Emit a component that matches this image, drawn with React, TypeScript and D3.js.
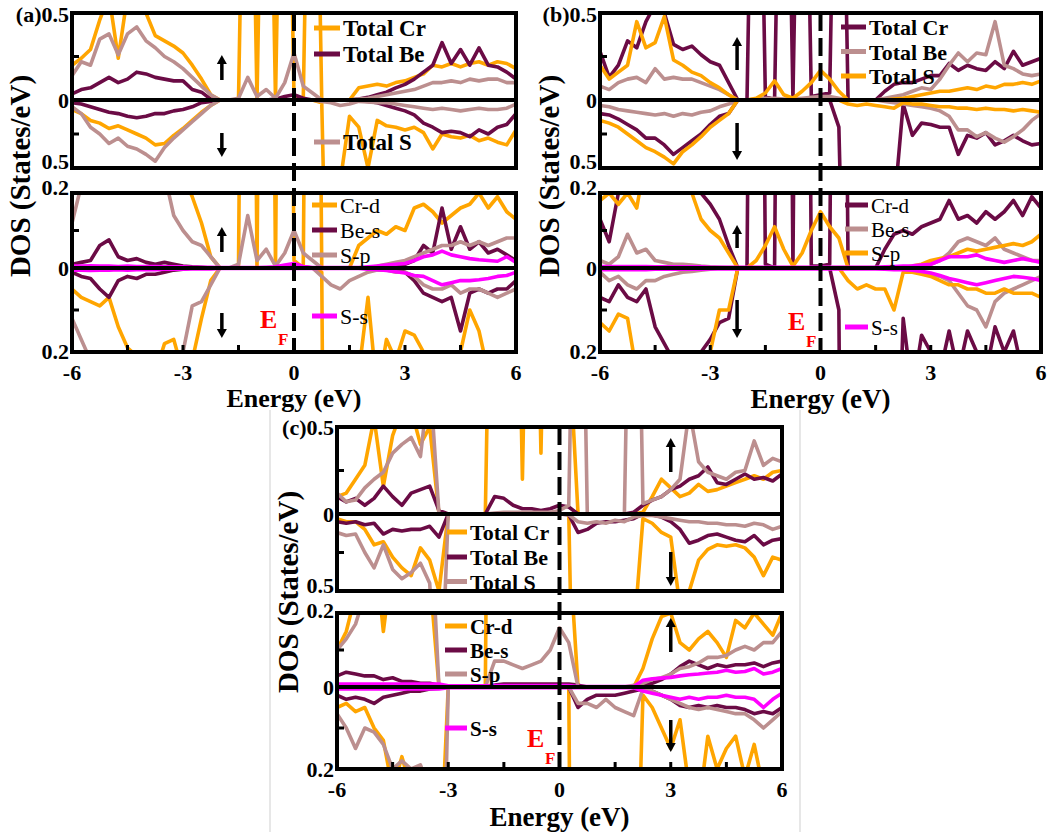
import React from "react";
import * as d3 from "d3";

const ORANGE = "#FFA500";
const PURPLE = "#6B0B45";
const ROSY = "#BC8F8F";
const MAGENTA = "#FF00FF";
const FONT = "'Liberation Serif', 'Times New Roman', serif";

// energy grid: -6 .. 6 eV, 0.25 eV step (49 points)
const energy = d3.range(49).map((i) => -6 + i * 0.25);
const xTickLabels = [-6, -3, 0, 3, 6];
const xTickMarks = [-4.5, -3, -1.5, 0, 1.5, 3, 4.5];

// ---------- panel (a) total DOS ----------
const aTopCrUp = [
  0.2, 0.24, 0.29, 0.46, 0.6, 0.24, 0.6, 0.56,
  0.5, 0.37, 0.34, 0.31, 0.27, 0.2, 0.12, 0.03,
  0, 0, 0, 3, 0, 3, 0, 3,
  0.02, 0, 3, 0, 0, 0, 0, 0.07,
  0.08, 0.09, 0.08, 0.1, 0.11, 0.13, 0.15, 0.2,
  0.19, 0.21, 0.19, 0.21, 0.22, 0.2, 0.22, 0.21,
  0.18];
const aTopCrDn = [
  -0.07, -0.1, -0.15, -0.17, -0.21, -0.19, -0.22, -0.25,
  -0.28, -0.33, -0.32, -0.26, -0.21, -0.15, -0.09, -0.04,
  0, 0, 0, 0, 0, 0, 0, 0,
  0, 0, 0, -0.02, -3, -0.6, -0.12, -0.2,
  -0.5, -0.15, -0.19, -0.2, -0.22, -0.2, -0.24, -0.36,
  -0.25, -0.27, -0.28, -0.26, -0.3, -0.28, -0.31, -0.33,
  -0.22];
const aTopBeUp = [
  0.035, 0.06, 0.07, 0.1, 0.13, 0.1, 0.12, 0.16,
  0.15, 0.13, 0.12, 0.11, 0.11, 0.06, 0.045, 0.005,
  0, 0, 0, 0, 0, 0, 0.005, 0.02,
  0.03, 0.01, 0, 0, 0, 0, 0, 0.005,
  0.015, 0.03, 0.045, 0.07, 0.09, 0.12, 0.16, 0.2,
  0.33, 0.21, 0.29, 0.2, 0.3, 0.2, 0.19, 0.16,
  0.12];
const aTopBeDn = [
  -0.02, -0.03, -0.05, -0.07, -0.09, -0.1, -0.12, -0.13,
  -0.12, -0.1, -0.1, -0.08, -0.07, -0.05, -0.02, -0.01,
  0, 0, 0, 0, 0, 0, 0, 0,
  0, 0, 0, 0, 0, 0, 0, -0.005,
  -0.01, -0.02, -0.04, -0.06, -0.08, -0.11, -0.17, -0.2,
  -0.24, -0.23, -0.24, -0.27, -0.22, -0.25, -0.2, -0.18,
  -0.1];
const aTopSUp = [
  0.14, 0.22, 0.2, 0.35, 0.38, 0.26, 0.38, 0.42,
  0.34, 0.3, 0.25, 0.22, 0.18, 0.13, 0.08, 0.03,
  0, 0, 0.01, 0.13, 0.02, 0.06, 0.01, 0.1,
  0.27, 0.08, 0.04, 0, 0, 0, 0, 0.005,
  0.01, 0.02, 0.03, 0.04, 0.05, 0.06, 0.08, 0.1,
  0.1, 0.11, 0.1, 0.12, 0.11, 0.12, 0.12, 0.1,
  0.1];
const aTopSDn = [
  -0.05, -0.1, -0.2, -0.25, -0.32, -0.28, -0.34, -0.36,
  -0.4, -0.45, -0.35, -0.28, -0.22, -0.16, -0.1, -0.04,
  0, 0, 0, 0, 0, 0, 0, 0,
  0, 0, 0, -0.01, -0.02, -0.04, -0.03, -0.01,
  -0.015, -0.02, -0.02, -0.03, -0.04, -0.05, -0.06, -0.07,
  -0.06, -0.07, -0.08, -0.07, -0.06, -0.07, -0.07, -0.06,
  -0.03];

// ---------- panel (a) partial DOS ----------
const aBotCrUp = [
  0.3, 0.35, 0.3, 0.4, 0.5, 0.3, 0.5, 0.5,
  0.45, 0.35, 0.3, 0.3, 0.25, 0.19, 0.12, 0.03,
  0, 0, 0, 3, 0, 3, 0, 3,
  0.02, 0, 3, 0, 0, 0, 0, 0.06,
  0.08, 0.1, 0.09, 0.11, 0.1, 0.16, 0.17, 0.15,
  0.12, 0.14, 0.16, 0.17, 0.2, 0.16, 0.19, 0.15,
  0.13];
const aBotCrDn = [
  -0.05, -0.07, -0.08, -0.09, -0.07, -0.14, -0.19, -0.21,
  -0.22, -0.25, -0.18, -0.17, -0.25, -0.22, -0.12, -0.03,
  0, 0, 0, 0, 0, 0, 0, 0,
  0, 0, 0, -0.01, -3, -0.5, -0.4, -0.25,
  -0.07, -0.3, -0.17, -0.22, -0.15, -0.16, -0.2, -0.25,
  -0.22, -0.25, -0.2, -0.1, -0.15, -0.25, -0.22, -0.25,
  -0.25];
const aBotBeUp = [
  0.01, 0.015, 0.02, 0.06, 0.075, 0.03, 0.02, 0.025,
  0.015, 0.01, 0.015, 0.01, 0.005, 0.003, 0.002, 0,
  0, 0, 0, 0, 0, 0, 0, 0.003,
  0.008, 0.003, 0, 0, 0, 0, 0, 0,
  0, 0, 0.003, 0.006, 0.01, 0.02, 0.06, 0.04,
  0.16, 0.05, 0.11, 0.05, 0.07, 0.04, 0.05, 0.035,
  0.02];
const aBotBeDn = [
  -0.01, -0.02, -0.025, -0.05, -0.07, -0.03, -0.02, -0.025,
  -0.015, -0.015, -0.01, -0.005, -0.003, 0, 0, 0,
  0, 0, 0, 0, 0, 0, 0, 0,
  0, 0, 0, 0, 0, 0, 0, 0,
  0, 0, 0, -0.003, -0.01, -0.03, -0.06, -0.07,
  -0.08, -0.07, -0.15, -0.06, -0.05, -0.06, -0.05, -0.05,
  -0.03];
const aBotSpUp = [
  0.12, 0.22, 0.3, 0.3, 0.3, 0.3, 0.3, 0.3,
  0.3, 0.3, 0.25, 0.14, 0.1, 0.07, 0.06, 0.03,
  0, 0, 0.01, 0.14, 0.02, 0.05, 0.005, 0.04,
  0.1, 0.04, 0.02, 0, 0, 0, 0, 0,
  0, 0.005, 0.01, 0.015, 0.02, 0.03, 0.04, 0.05,
  0.06, 0.06, 0.07, 0.06, 0.07, 0.06, 0.07, 0.08,
  0.08];
const aBotSpDn = [
  -0.12, -0.17, -0.22, -0.3, -0.3, -0.3, -0.3, -0.3,
  -0.3, -0.3, -0.3, -0.25, -0.2, -0.09, -0.08, -0.04,
  0, 0, 0, 0, 0, 0, 0, 0,
  0, 0, 0, -0.02, -0.04, -0.05, -0.03, -0.02,
  -0.01, -0.005, -0.005, -0.01, -0.01, -0.02, -0.04, -0.05,
  -0.05, -0.04, -0.06, -0.05, -0.05, -0.06, -0.07, -0.06,
  -0.05];
const aBotSsUp = [
  0.005, 0.005, 0.006, 0.005, 0.005, 0.004, 0.005, 0.004,
  0.004, 0.004, 0.003, 0.003, 0.003, 0.002, 0.002, 0.002,
  0.001, 0.001, 0.001, 0.001, 0.001, 0.002, 0.003, 0.008,
  0.012, 0.004, 0.001, 0.001, 0.001, 0.001, 0.001, 0.001,
  0.003, 0.005, 0.008, 0.01, 0.012, 0.02, 0.03, 0.035,
  0.045, 0.035, 0.03, 0.025, 0.022, 0.02, 0.018, 0.03,
  0.015];
const aBotSsDn = [
  -0.005, -0.005, -0.006, -0.005, -0.005, -0.004, -0.005, -0.004,
  -0.004, -0.004, -0.003, -0.003, -0.003, -0.002, -0.002, -0.002,
  -0.001, -0.001, -0.001, -0.001, -0.001, -0.001, -0.001, -0.001,
  -0.001, -0.001, -0.001, -0.001, -0.001, -0.001, -0.001, -0.001,
  -0.003, -0.004, -0.006, -0.009, -0.012, -0.018, -0.02, -0.03,
  -0.04, -0.035, -0.03, -0.03, -0.028, -0.025, -0.02, -0.018,
  -0.01];

// ---------- panel (b) total DOS ----------
const bTopCrUp = [
  0.28, 0.13, 0.2, 0.34, 0.3, 0.45, 0.55, 0.5,
  0.32, 0.29, 0.31, 0.26, 0.22, 0.2, 0.1, 0,
  0, 3, 0.02, 0, 3, 0.01, 3, 0.02,
  0.03, 0.04, 3, 0, 0, 0, 0, 0.05,
  0.09, 0.1, 0.1, 0.12, 0.14, 0.14, 0.21, 0.17,
  0.2, 0.18, 0.17, 0.22, 0.18, 0.28, 0.2, 0.22,
  0.24];
const bTopCrDn = [
  -0.1, -0.11, -0.14, -0.18, -0.22, -0.28, -0.28, -0.33,
  -0.4, -0.35, -0.3, -0.25, -0.18, -0.12, -0.1, 0,
  0, 0, 0, 0, 0, 0, 0, 0,
  0, 0, -0.2, -3, -3, -3, -3, -3,
  -0.8, -0.03, -0.26, -0.17, -0.18, -0.2, -0.2, -0.4,
  -0.26, -0.28, -0.24, -0.33, -0.3, -0.26, -0.3, -0.33,
  -0.32];
const bTopBeUp = [
  0.08, 0.06, 0.1, 0.12, 0.13, 0.1, 0.18, 0.12,
  0.13, 0.12, 0.12, 0.1, 0.08, 0.06, 0.03, 0,
  0, 0.005, 0.01, 0.01, 0.005, 0.005, 0.01, 0.015,
  0.02, 0.02, 0.01, 0, 0, 0, 0, 0.01,
  0.02, 0.03, 0.05, 0.07, 0.06, 0.12, 0.2, 0.27,
  0.22, 0.27, 0.26, 0.45, 0.2, 0.18, 0.15, 0.14,
  0.15];
const bTopBeDn = [
  -0.04, -0.05, -0.07, -0.08, -0.09, -0.1, -0.11, -0.1,
  -0.12, -0.1, -0.11, -0.09, -0.08, -0.05, -0.03, 0,
  0, 0, 0, 0, 0, 0, 0, 0,
  0, 0, 0, 0, 0, 0, 0, -0.01,
  -0.02, -0.03, -0.04, -0.05, -0.06, -0.08, -0.12, -0.22,
  -0.22, -0.27, -0.24, -0.28, -0.31, -0.27, -0.22, -0.15,
  -0.1];
const bTopSUp = [
  0.2, 0.12, 0.16, 0.2, 0.45, 0.3, 0.33, 0.48,
  0.23, 0.2, 0.16, 0.14, 0.1, 0.07, 0.03, 0,
  0, 0.01, 0.04, 0.11, 0.03, 0.01, 0.05, 0.1,
  0.17, 0.12, 0.05, 0, 0, 0, 0, 0,
  0.005, 0.01, 0.02, 0.03, 0.04, 0.05, 0.05, 0.06,
  0.07, 0.06, 0.08, 0.07, 0.09, 0.09, 0.1, 0.09,
  0.11];
const bTopSDn = [
  -0.15, -0.17, -0.2, -0.25, -0.3, -0.35, -0.38, -0.42,
  -0.47, -0.38, -0.33, -0.27, -0.2, -0.15, -0.1, 0,
  0, 0, 0, 0, 0, 0, 0, 0,
  0, 0, 0, -0.03, -0.04, -0.03, -0.04, -0.05,
  -0.06, -0.02, -0.03, -0.03, -0.04, -0.05, -0.05, -0.06,
  -0.06, -0.07, -0.06, -0.07, -0.07, -0.08, -0.07, -0.08,
  -0.09];

// ---------- panel (b) partial DOS ----------
const bBotCrUp = [
  0.13, 0.07, 0.2, 0.3, 0.3, 0.3, 0.3, 0.3,
  0.3, 0.3, 0.3, 0.2, 0.17, 0.13, 0.06, 0,
  0, 3, 0.01, 0, 3, 0.005, 3, 0.005,
  0.005, 0.01, 3, 0, 0, 0, 0, 0.05,
  0.09, 0.1, 0.09, 0.11, 0.12, 0.13, 0.18, 0.13,
  0.14, 0.12, 0.15, 0.13, 0.15, 0.18, 0.14, 0.19,
  0.16];
const bBotCrDn = [
  -0.07, -0.08, -0.04, -0.07, -0.08, -0.05, -0.14, -0.18,
  -0.22, -0.25, -0.25, -0.2, -0.17, -0.13, -0.12, 0,
  0, 0, 0, 0, 0, 0, 0, 0,
  0, 0, -0.1, -3, -3, -3, -3, -3,
  -0.8, -0.12, -0.3, -0.16, -0.2, -0.25, -0.15, -0.25,
  -0.15, -0.2, -0.25, -0.14, -0.2, -0.15, -0.25, -0.2,
  -0.25];
const bBotBeUp = [
  0.02, 0.01, 0.03, 0.09, 0.04, 0.05, 0.02, 0.015,
  0.01, 0.01, 0.008, 0.005, 0.003, 0.002, 0.001, 0.001,
  0.001, 0.001, 0.001, 0.001, 0.001, 0.001, 0.001, 0.001,
  0.001, 0.001, 0.001, 0.001, 0.001, 0.001, 0.001, 0.001,
  0.001, 0.001, 0.003, 0.006, 0.01, 0.02, 0.04, 0.07,
  0.08, 0.07, 0.06, 0.08, 0.05, 0.04, 0.03, 0.02,
  0.02];
const bBotBeDn = [
  -0.01, -0.03, -0.02, -0.04, -0.05, -0.03, -0.03, -0.02,
  -0.015, -0.01, -0.008, -0.005, -0.003, 0, 0, 0,
  0, 0, 0, 0, 0, 0, 0, 0,
  0, 0, 0, 0, 0, 0, 0, 0,
  0, 0, -0.003, -0.01, -0.015, -0.02, -0.03, -0.06,
  -0.09, -0.1, -0.14, -0.08, -0.06, -0.05, -0.04, -0.03,
  -0.02];
const bBotSpUp = [
  0.18, 0.2, 0.17, 0.2, 0.16, 0.3, 0.3, 0.25,
  0.3, 0.3, 0.2, 0.13, 0.1, 0.08, 0.04, 0,
  0, 0.02, 0.06, 0.11, 0.05, 0.005, 0.04, 0.1,
  0.15, 0.11, 0.08, 0, 0, 0, 0, 0,
  0, 0, 0.005, 0.01, 0.02, 0.025, 0.03, 0.04,
  0.05, 0.045, 0.05, 0.055, 0.06, 0.065, 0.06, 0.07,
  0.09];
const bBotSpDn = [
  -0.13, -0.15, -0.11, -0.12, -0.25, -0.3, -0.3, -0.3,
  -0.3, -0.3, -0.3, -0.25, -0.2, -0.1, -0.1, 0,
  0, 0, 0, 0, 0, 0, 0, 0,
  0, 0, 0, -0.03, -0.05, -0.04, -0.05, -0.05,
  -0.1, -0.01, -0.01, -0.015, -0.02, -0.03, -0.04, -0.04,
  -0.05, -0.05, -0.06, -0.06, -0.05, -0.06, -0.06, -0.06,
  -0.07];
const bBotSsUp = [
  0.004, 0.004, 0.004, 0.004, 0.004, 0.004, 0.003, 0.003,
  0.003, 0.003, 0.003, 0.003, 0.002, 0.002, 0.002, 0.002,
  0.002, 0.002, 0.002, 0.002, 0.002, 0.002, 0.002, 0.002,
  0.002, 0.002, 0.002, 0.002, 0.002, 0.002, 0.002, 0.003,
  0.004, 0.005, 0.006, 0.008, 0.01, 0.02, 0.03, 0.03,
  0.03, 0.035, 0.025, 0.02, 0.015, 0.02, 0.025, 0.02,
  0.015];
const bBotSsDn = [
  -0.004, -0.004, -0.004, -0.004, -0.004, -0.004, -0.003, -0.003,
  -0.003, -0.003, -0.003, -0.003, -0.002, -0.002, -0.002, -0.002,
  -0.002, -0.002, -0.002, -0.002, -0.002, -0.002, -0.002, -0.002,
  -0.002, -0.002, -0.002, -0.002, -0.002, -0.002, -0.002, -0.003,
  -0.004, -0.004, -0.005, -0.008, -0.012, -0.018, -0.025, -0.03,
  -0.035, -0.04, -0.035, -0.03, -0.025, -0.02, -0.022, -0.025,
  -0.03];

// ---------- panel (c) total DOS ----------
const cTopCrUp = [
  0.1, 0.12, 0.2, 0.28, 0.55, 0.16, 0.45, 0.6,
  0.6, 0.4, 0.5, 0, 0, 0, 0, 0,
  0, 3, 3, 3, 0.2, 3, 0.35, 3,
  3, 1, 0, 0, 0, 0, 0, 0,
  0, 0.01, 0.1, 0.2, 0.15, 0.1, 0.12, 0.17,
  0.13, 0.14, 0.16, 0.18, 0.2, 0.22, 0.2, 0.24,
  0.25];
const cTopCrDn = [
  -0.03, -0.05, -0.05, -0.1, -0.2, -0.18, -0.28, -0.35,
  -0.4, -0.22, -0.3, -0.5, 0, 0, 0, 0,
  0, 0, 0, 0, 0, 0, 0, 0,
  0, 0, -3, -3, -3, -3, -3, -3,
  -0.8, -0.03, -0.06, -0.12, -0.15, -0.6, -0.5, -0.3,
  -0.23, -0.2, -0.21, -0.2, -0.22, -0.28, -0.4, -0.28,
  -0.3];
const cTopBeUp = [
  0.1, 0.07, 0.09, 0.05, 0.09, 0.16, 0.1, 0.05,
  0.12, 0.14, 0.16, 0.02, 0, 0, 0, 0,
  0, 0.1, 0.09, 0.05, 0.03, 0.03, 0.02, 0.03,
  0.05, 0.04, 0, 0, 0, 0, 0, 0,
  0.01, 0.05, 0.08, 0.1, 0.14, 0.16, 0.2, 0.22,
  0.27, 0.18, 0.17, 0.2, 0.23, 0.2, 0.21, 0.19,
  0.23];
const cTopBeDn = [
  -0.05, -0.06, -0.05, -0.07, -0.06, -0.13, -0.1, -0.11,
  -0.1, -0.1, -0.08, -0.15, 0, 0, 0, 0,
  0, 0, 0, 0, 0, 0, 0, 0,
  0, -0.005, -0.12, -0.1, -0.06, -0.05, -0.05, -0.04,
  -0.03, 0, -0.005, -0.02, -0.05, -0.1, -0.19, -0.17,
  -0.14, -0.13, -0.15, -0.17, -0.18, -0.14, -0.2, -0.17,
  -0.16];
const cTopSUp = [
  0.12, 0.07, 0.08, 0.15, 0.2, 0.24, 0.35, 0.4,
  0.44, 0.33, 0.8, 0, 0, 0, 0, 0,
  0, 0.005, 0.01, 0.01, 0.01, 0.01, 0.01, 0.01,
  0.02, 0.05, 3, 0, 0, 0, 0, 0,
  3, 0.06, 0.08, 0.1, 0.14, 0.2, 0.6, 0.3,
  0.24, 0.22, 0.2, 0.24, 0.25, 0.42, 0.28, 0.32,
  0.3];
const cTopSDn = [
  -0.12, -0.14, -0.13, -0.25, -0.35, -0.2, -0.36, -0.42,
  -0.38, -0.32, -0.45, -1.5, 0, 0, 0, 0,
  0, 0, 0, 0, 0, 0, 0, 0,
  0, -0.005, -0.05, -0.06, -0.05, -0.06, -0.04, -0.05,
  -0.02, -0.01, -0.01, -0.02, -0.03, -0.04, -0.05, -0.05,
  -0.06, -0.06, -0.07, -0.07, -0.08, -0.06, -0.07, -0.1,
  -0.08];

// ---------- panel (c) partial DOS ----------
const cBotCrUp = [
  0.1, 0.15, 0.25, 0.22, 0.4, 0.15, 0.35, 0.45,
  0.45, 0.3, 0.3, 0, 0, 0, 0, 0,
  0, 3, 3, 3, 3, 3, 3, 3,
  3, 0.4, 0, 0, 0, 0, 0, 0,
  0, 0.05, 0.13, 0.19, 0.2, 0.12, 0.1, 0.13,
  0.15, 0.12, 0.08, 0.18, 0.16, 0.2, 0.17, 0.14,
  0.2];
const cBotCrDn = [
  -0.05, -0.04, -0.06, -0.05, -0.1, -0.13, -0.25, -0.17,
  -0.25, -0.2, -0.25, -0.5, 0, 0, 0, 0,
  0, 0, 0, 0, 0, 0, 0, 0,
  0, 0, -3, -3, -3, -3, -3, -3,
  -0.8, -0.02, -0.05, -0.1, -0.15, -0.08, -0.25, -0.3,
  -0.12, -0.2, -0.15, -0.12, -0.22, -0.14, -0.25, -0.3,
  -0.2];
const cBotBeUp = [
  0.03, 0.04, 0.035, 0.03, 0.03, 0.02, 0.025, 0.015,
  0.015, 0.01, 0.01, 0.005, 0, 0, 0, 0,
  0, 0.005, 0.008, 0.008, 0.008, 0.008, 0.008, 0.008,
  0.008, 0.008, 0.005, 0, 0, 0, 0, 0,
  0, 0.005, 0.01, 0.02, 0.035, 0.055, 0.07, 0.06,
  0.05, 0.06, 0.055, 0.06, 0.06, 0.065, 0.055, 0.065,
  0.07];
const cBotBeDn = [
  -0.02, -0.03, -0.025, -0.03, -0.04, -0.025, -0.02, -0.015,
  -0.01, -0.01, -0.005, -0.003, 0, 0, 0, 0,
  0, 0, 0, 0, 0, 0, 0, 0,
  0, 0, -0.05, -0.03, -0.02, -0.02, -0.02, -0.015,
  -0.01, -0.005, -0.01, -0.02, -0.03, -0.045, -0.05, -0.045,
  -0.05, -0.045, -0.05, -0.05, -0.055, -0.065, -0.06, -0.065,
  -0.05];
const cBotSpUp = [
  0.1, 0.13, 0.17, 0.25, 0.3, 0.3, 0.3, 0.25,
  0.3, 0.3, 0.5, 0, 0, 0, 0, 0,
  0, 0.07, 0.07, 0.06, 0.05, 0.06, 0.07, 0.1,
  0.16, 0.12, 0, 0, 0, 0, 0, 0,
  0.005, 0.01, 0.02, 0.025, 0.035, 0.05, 0.055, 0.065,
  0.08, 0.08, 0.085, 0.1, 0.11, 0.1, 0.12, 0.12,
  0.15];
const cBotSpDn = [
  -0.065, -0.1, -0.15, -0.1, -0.11, -0.14, -0.2, -0.18,
  -0.2, -0.19, -0.25, -1, 0, 0, 0, 0,
  0, 0, 0, 0, 0, 0, 0, 0,
  0, 0, -0.04, -0.04, -0.05, -0.03, -0.05, -0.06,
  -0.07, -0.005, -0.01, -0.02, -0.03, -0.04, -0.05, -0.055,
  -0.05, -0.055, -0.06, -0.065, -0.065, -0.08, -0.1, -0.08,
  -0.06];
const cBotSsUp = [
  0.008, 0.008, 0.008, 0.008, 0.008, 0.008, 0.008, 0.008,
  0.008, 0.008, 0.008, 0.008, 0.003, 0.003, 0.003, 0.003,
  0.003, 0.004, 0.004, 0.004, 0.004, 0.004, 0.004, 0.004,
  0.004, 0.004, 0.001, 0.001, 0.001, 0.001, 0.001, 0.001,
  0.001, 0.018, 0.022, 0.024, 0.026, 0.03, 0.033, 0.035,
  0.038, 0.04, 0.045, 0.04, 0.042, 0.05, 0.035, 0.04,
  0.05];
const cBotSsDn = [
  -0.005, -0.005, -0.005, -0.005, -0.005, -0.005, -0.005, -0.005,
  -0.005, -0.005, -0.005, -0.005, -0.002, -0.002, -0.002, -0.002,
  -0.002, -0.002, -0.002, -0.002, -0.002, -0.002, -0.002, -0.002,
  -0.002, -0.002, -0.002, -0.002, -0.002, -0.002, -0.002, -0.002,
  -0.002, -0.01, -0.015, -0.02, -0.025, -0.03, -0.025, -0.03,
  -0.025, -0.025, -0.02, -0.025, -0.025, -0.03, -0.05, -0.03,
  -0.015];

const totalNames = ["Total Cr", "Total Be", "Total S"];
const partialNames = ["Cr-d", "Be-s", "S-p", "S-s"];

type Curve = { up: number[]; dn: number[]; color: string };

function Plot({ id, x0, x1, yTop, yZero, yBot, max, curves, xTicks }: any) {
  const x = d3.scaleLinear().domain([-6, 6]).range([x0, x1]);
  const yUp = d3.scaleLinear().domain([0, max]).range([yZero, yTop]);
  const yDn = d3.scaleLinear().domain([-max, 0]).range([yBot, yZero]);
  const lineUp = d3.line<number>().x((_, i) => x(energy[i])).y((d) => yUp(d));
  const lineDn = d3.line<number>().x((_, i) => x(energy[i])).y((d) => yDn(d));
  return (
    <g>
      <defs>
        <clipPath id={id + "u"}>
          <rect x={x0} y={yTop} width={x1 - x0} height={yZero - yTop} />
        </clipPath>
        <clipPath id={id + "d"}>
          <rect x={x0} y={yZero} width={x1 - x0} height={yBot - yZero} />
        </clipPath>
      </defs>
      <g clipPath={`url(#${id}u)`}>
        {curves.map((c: Curve, k: number) => (
          <path key={k} d={lineUp(c.up) || ""} fill="none" stroke={c.color}
            strokeWidth={3.6} strokeLinejoin="round" />
        ))}
      </g>
      <g clipPath={`url(#${id}d)`}>
        {curves.map((c: Curve, k: number) => (
          <path key={k} d={lineDn(c.dn) || ""} fill="none" stroke={c.color}
            strokeWidth={3.6} strokeLinejoin="round" />
        ))}
      </g>
      <line x1={x0} x2={x1} y1={yZero} y2={yZero} stroke="#000" strokeWidth={4} />
      {[yUp(max / 2), yDn(-max / 2)].map((y, k) => (
        <line key={k} x1={x0} x2={x0 + 7} y1={y} y2={y} stroke="#000" strokeWidth={3} />
      ))}
      {xTicks &&
        xTickMarks.map((t) => (
          <line key={t} x1={x(t)} x2={x(t)} y1={yBot} y2={yBot - 7} stroke="#000" strokeWidth={3} />
        ))}
      <rect x={x0} y={yTop} width={x1 - x0} height={yBot - yTop} fill="none"
        stroke="#000" strokeWidth={4} />
    </g>
  );
}

function Arrow({ x, from, to }: { x: number; from: number; to: number }) {
  const dir = to < from ? -1 : 1;
  const h = 9;
  const base = to - dir * h;
  return (
    <g>
      <line x1={x} x2={x} y1={from} y2={base} stroke="#000" strokeWidth={3.5} />
      <path d={`M${x - 5},${base}L${x + 5},${base}L${x},${to}Z`} fill="#000" />
    </g>
  );
}

function Legend({ items, lx, len, size, weight }: any) {
  return (
    <g>
      {items.map((it: any) => (
        <g key={it.text}>
          <line x1={lx} x2={lx + len} y1={it.y} y2={it.y} stroke={it.color} strokeWidth={5} />
          <text x={lx + len + 3} y={it.y + 8} fontFamily={FONT} fontSize={size}
            fontWeight={weight} fill="#000">{it.text}</text>
        </g>
      ))}
    </g>
  );
}

function Panel({ p }: any) {
  const x = d3.scaleLinear().domain([-6, 6]).range([p.x0, p.x1]);
  const t = p.top;
  const b = p.bot;
  const ax = x(p.arrowE);
  const tick = { fontFamily: FONT, fontSize: 22, fontWeight: "bold", textAnchor: "end" } as any;
  const yl = p.yLabels;
  return (
    <g>
      <Plot id={p.id + "t"} x0={p.x0} x1={p.x1} {...t} />
      <Plot id={p.id + "b"} x0={p.x0} x1={p.x1} {...b} xTicks />
      <line x1={x(0)} x2={x(0)} y1={t.yTop} y2={b.yBot} stroke="#000" strokeWidth={4}
        strokeDasharray="18 7" />
      {p.arrows.map((a: number[], k: number) => (
        <Arrow key={k} x={ax} from={a[0]} to={a[1]} />
      ))}
      <Legend {...p.legendTop} />
      <Legend {...p.legendBot} />
      <text x={p.ef[0]} y={p.ef[1]} fontFamily={FONT} fontSize={26} fontWeight="bold" fill="#FF0000">E</text>
      <text x={p.ef[0] + 18} y={p.ef[1] + 17} fontFamily={FONT} fontSize={17} fontWeight="bold" fill="#FF0000">F</text>
      {/* y tick labels */}
      <text x={p.x0 - 3} y={yl[0]} {...tick}>{p.label + "0.5"}</text>
      <text x={p.x0 - 3} y={t.yZero + 8} {...tick}>0</text>
      <text x={p.x0 - 3} y={yl[1]} {...tick}>0.5</text>
      <text x={p.x0 - 3} y={yl[2]} {...tick}>0.2</text>
      <text x={p.x0 - 3} y={b.yZero + 8} {...tick}>0</text>
      <text x={p.x0 - 3} y={yl[3]} {...tick}>0.2</text>
      {/* x tick labels and title */}
      {xTickLabels.map((v) => (
        <text key={v} x={x(v)} y={p.xLab[0]} fontFamily={FONT} fontSize={22}
          fontWeight="bold" textAnchor="middle">{v}</text>
      ))}
      <text x={x(0)} y={p.xLab[1]} fontFamily={FONT} fontSize={p.xLab[2]} fontWeight="bold"
        textAnchor="middle">Energy (eV)</text>
      <text transform={`translate(${p.yTitle[0]},${p.yTitle[1]}) rotate(-90)`} fontFamily={FONT}
        fontSize={29} fontWeight="bold" textAnchor="middle">DOS (States/eV)</text>
    </g>
  );
}

const colorsAC = [ORANGE, PURPLE, ROSY, MAGENTA];
const colorsB = [PURPLE, ROSY, ORANGE, MAGENTA];

function totals(cols: string[], cr: number[][], be: number[][], s: number[][]): Curve[] {
  return [
    { up: cr[0], dn: cr[1], color: cols[0] },
    { up: be[0], dn: be[1], color: cols[1] },
    { up: s[0], dn: s[1], color: cols[2] },
  ];
}
function partials(cols: string[], d: number[][], bs: number[][], sp: number[][], ss: number[][]): Curve[] {
  return [
    { up: d[0], dn: d[1], color: cols[0] },
    { up: bs[0], dn: bs[1], color: cols[1] },
    { up: sp[0], dn: sp[1], color: cols[2] },
    { up: ss[0], dn: ss[1], color: cols[3] },
  ];
}
function legendItems(names: string[], cols: string[], ys: number[]) {
  return names.map((n, i) => ({ text: n, color: cols[i], y: ys[i] }));
}

const panels = [
  {
    id: "a", label: "(a)", x0: 72, x1: 516,
    top: { yTop: 13, yZero: 100, yBot: 168, max: 0.5,
      curves: totals(colorsAC, [aTopCrUp, aTopCrDn], [aTopBeUp, aTopBeDn], [aTopSUp, aTopSDn]) },
    bot: { yTop: 193, yZero: 268, yBot: 352, max: 0.2,
      curves: partials(colorsAC, [aBotCrUp, aBotCrDn], [aBotBeUp, aBotBeDn], [aBotSpUp, aBotSpDn], [aBotSsUp, aBotSsDn]) },
    yLabels: [22, 169, 195, 359],
    xLab: [380, 407, 26],
    arrowE: -1.95,
    arrows: [[80, 55], [133, 157], [252, 227], [313, 338]],
    legendTop: { lx: 314, len: 26, size: 23, weight: "bold", items: legendItems(totalNames, colorsAC, [28, 54, 142]) },
    legendBot: { lx: 312, len: 25, size: 22, weight: "normal", items: legendItems(partialNames, colorsAC, [205, 230, 255, 316]) },
    ef: [260, 328],
    yTitle: [30, 176],
  },
  {
    id: "b", label: "(b)", x0: 600, x1: 1041,
    top: { yTop: 13, yZero: 100, yBot: 168, max: 0.5,
      curves: totals(colorsB, [bTopCrUp, bTopCrDn], [bTopBeUp, bTopBeDn], [bTopSUp, bTopSDn]) },
    bot: { yTop: 193, yZero: 268, yBot: 352, max: 0.2,
      curves: partials(colorsB, [bBotCrUp, bBotCrDn], [bBotBeUp, bBotBeDn], [bBotSpUp, bBotSpDn], [bBotSsUp, bBotSsDn]) },
    yLabels: [22, 169, 195, 359],
    xLab: [380, 408, 27],
    arrowE: -2.27,
    arrows: [[70, 37], [123, 160], [248, 225], [300, 338]],
    legendTop: { lx: 841, len: 25, size: 22, weight: "bold", items: legendItems(totalNames, colorsB, [27, 51.5, 76]) },
    legendBot: { lx: 845, len: 23, size: 21, weight: "normal", items: legendItems(partialNames, colorsB, [205, 229, 253, 327]) },
    ef: [788, 330],
    yTitle: [559, 176],
  },
  {
    id: "c", label: "(c)", x0: 337, x1: 782,
    top: { yTop: 427, yZero: 514, yBot: 591, max: 0.5,
      curves: totals(colorsAC, [cTopCrUp, cTopCrDn], [cTopBeUp, cTopBeDn], [cTopSUp, cTopSDn]) },
    bot: { yTop: 613, yZero: 687, yBot: 769, max: 0.2,
      curves: partials(colorsAC, [cBotCrUp, cBotCrDn], [cBotBeUp, cBotBeDn], [cBotSpUp, cBotSpDn], [cBotSsUp, cBotSsDn]) },
    yLabels: [435, 593, 618, 777],
    xLab: [797, 826, 27],
    arrowE: 3.0,
    arrows: [[472, 438], [552, 586], [652, 618], [720, 752]],
    legendTop: { lx: 447, len: 20, size: 22, weight: "bold", items: legendItems(totalNames, colorsAC, [532, 557, 581.5]) },
    legendBot: { lx: 445, len: 22, size: 21, weight: "bold", items: legendItems(partialNames, colorsAC, [626, 650, 674, 728]) },
    ef: [527, 747],
    yTitle: [298, 592],
  },
];

export default function App() {
  return (
    <svg width={1057} height={832} style={{ position: "absolute", left: 0, top: 0, background: "#fff" }}>
      <rect x={0} y={0} width={1057} height={832} fill="#fff" />
      <line x1={270} x2={270} y1={410} y2={832} stroke="#cfcfcf" strokeWidth={1} />
      <line x1={800} x2={800} y1={410} y2={832} stroke="#cfcfcf" strokeWidth={1} />
      {panels.map((p) => (
        <Panel key={p.id} p={p} />
      ))}
    </svg>
  );
}
